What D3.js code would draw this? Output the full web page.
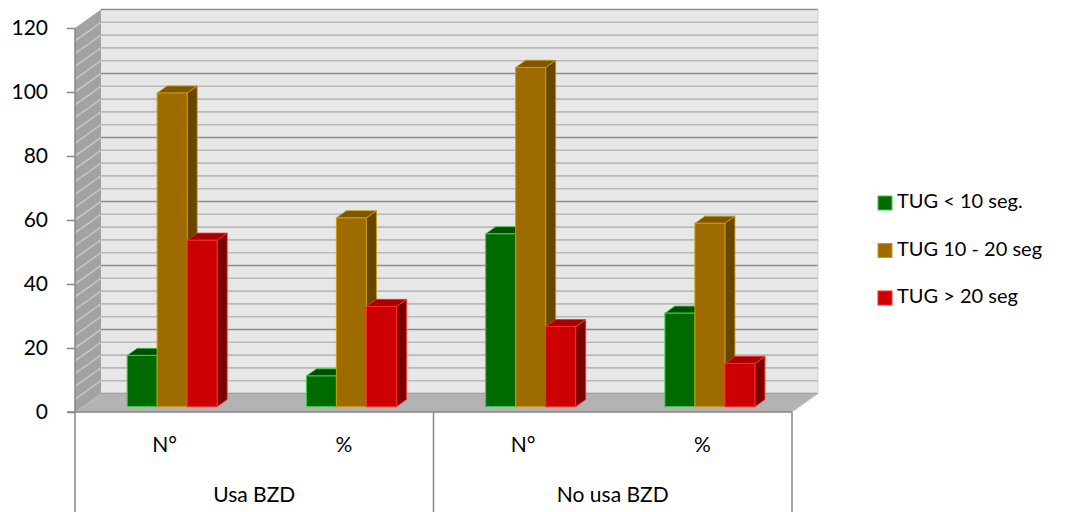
<!DOCTYPE html>
<html>
<head>
<meta charset="utf-8">
<script src="https://cdn.jsdelivr.net/npm/d3@7/dist/d3.min.js"></script>
<style>
  html, body { margin: 0; padding: 0; background: #ffffff; }
  svg { display: block; font-family: Lato, "Open Sans", sans-serif; }
</style>
</head>
<body>
<svg id="chart" width="1072" height="512"></svg>
<script>
// Chart data
const groups = ["Usa BZD", "No usa BZD"];
const measures = ["N°", "%"];
const series = ["TUG < 10 seg.", "TUG 10 - 20 seg", "TUG > 20 seg"];
const usaCount = [16, 98, 52];
const usaPercent = [9.6, 59.0, 31.3];
const noUsaCount = [54, 106, 25];
const noUsaPercent = [29.2, 57.3, 13.5];
const yTickValues = [0, 20, 40, 60, 80, 100, 120];

const categories = [
  { group: groups[0], measure: measures[0], values: usaCount },
  { group: groups[0], measure: measures[1], values: usaPercent },
  { group: groups[1], measure: measures[0], values: noUsaCount },
  { group: groups[1], measure: measures[1], values: noUsaPercent }
];

// Face colours per series: front, top, side, edge
const palette = [
  { front: "#006a00", top: "#004f00", side: "#004400", edge: "#3ccf4a" },
  { front: "#9e6b00", top: "#7f5600", side: "#684600", edge: "#c99a10" },
  { front: "#cc0000", top: "#a80000", side: "#7c0000", edge: "#ff2a2a" }
];

const svg = d3.select("#chart");

// Front plane geometry
const plotLeft = 75, plotRight = 792, plotBottom = 412, plotTop = 28;
const x0 = d3.scaleBand().domain(d3.range(categories.length)).range([plotLeft, plotRight]).padding(0);
const y = d3.scaleLinear().domain([0, 120]).range([plotBottom, plotTop]);

// Depth of the 3D box: fraction 0..1 mapped to screen offsets
const depthX = d3.scaleLinear().domain([0, 1]).range([0, 26]);
const depthY = d3.scaleLinear().domain([0, 1]).range([0, -18.5]);

const gridValues = d3.range(0, 121, 4);

// Back wall
const bx = depthX(1), by = depthY(1);
svg.append("rect")
  .attr("x", plotLeft + bx).attr("y", y(120) + by)
  .attr("width", plotRight - plotLeft).attr("height", y(0) - y(120))
  .attr("fill", "#e7e7e7");

// Side wall
svg.append("polygon")
  .attr("points", [[plotLeft, y(0)], [plotLeft + bx, y(0) + by], [plotLeft + bx, y(120) + by], [plotLeft, y(120)]].join(" "))
  .attr("fill", "#a2a2a2");

svg.append("g").selectAll("line").data(gridValues.filter(v => v > 0 && v < 120)).join("line")
  .attr("x1", plotLeft).attr("y1", d => y(d))
  .attr("x2", plotLeft + bx).attr("y2", d => y(d) + by)
  .attr("stroke", "#c6c6c6").attr("stroke-width", 1.6);

// Back wall grid
svg.append("g").selectAll("line").data(gridValues).join("line")
  .attr("x1", plotLeft + bx).attr("x2", plotRight + bx)
  .attr("y1", d => y(d) + by).attr("y2", d => y(d) + by)
  .attr("stroke", d => d % 20 === 0 ? "#8e8e8e" : "#b9b9b9")
  .attr("stroke-width", 1.6);

svg.append("line")
  .attr("x1", plotRight + bx).attr("x2", plotRight + bx)
  .attr("y1", y(120) + by).attr("y2", y(0) + by)
  .attr("stroke", "#d2d2d2").attr("stroke-width", 1);

// Floor
svg.append("polygon")
  .attr("points", [[plotLeft, y(0)], [plotRight, y(0)], [plotRight + bx, y(0) + by], [plotLeft + bx, y(0) + by]].join(" "))
  .attr("fill", "#b3b3b3");
svg.append("line")
  .attr("x1", plotRight).attr("y1", y(0)).attr("x2", plotRight + bx).attr("y2", y(0) + by)
  .attr("stroke", "#c8c8c8").attr("stroke-width", 1);

// Bars
const groupWidth = 90;
const x1 = d3.scaleBand().domain(d3.range(series.length)).range([0, groupWidth]).padding(0);
const frontDepth = 0.29, barDepth = 0.385;
const fdx = depthX(frontDepth), fdy = depthY(frontDepth);
const ddx = depthX(barDepth), ddy = depthY(barDepth);

const bars = [];
categories.forEach((c, ci) => {
  c.values.forEach((v, si) => {
    bars.push({ ci, si, v });
  });
});

const barG = svg.append("g");
bars.forEach(b => {
  const c = palette[b.si];
  const xl = x0(b.ci) + (x0.bandwidth() - groupWidth) / 2 + x1(b.si) + fdx;
  const w = x1.bandwidth();
  const yt = y(b.v) + fdy, yb = y(0) + fdy;
  const g = barG.append("g");
  g.append("polygon")
    .attr("points", [[xl + w, yt], [xl + w + ddx, yt + ddy], [xl + w + ddx, yb + ddy], [xl + w, yb]].join(" "))
    .attr("fill", c.side).attr("stroke", c.edge).attr("stroke-width", 0.8).attr("stroke-linejoin", "round");
  g.append("polygon")
    .attr("points", [[xl, yt], [xl + w, yt], [xl + w + ddx, yt + ddy], [xl + ddx, yt + ddy]].join(" "))
    .attr("fill", c.top).attr("stroke", c.edge).attr("stroke-width", 0.8).attr("stroke-linejoin", "round");
  g.append("rect")
    .attr("x", xl).attr("y", yt).attr("width", w).attr("height", yb - yt)
    .attr("fill", c.front).attr("stroke", c.edge).attr("stroke-width", 1);
});

// Value axis
const axisColor = "#868686";
const yAxis = svg.append("g")
  .attr("transform", `translate(${plotLeft},0)`)
  .call(d3.axisLeft(y).tickValues(yTickValues).tickSize(8).tickPadding(19).tickFormat(d3.format("d")));
yAxis.select(".domain").remove();
yAxis.selectAll(".tick line").attr("stroke", axisColor).attr("stroke-width", 1.5);
yAxis.selectAll(".tick text")
  .attr("fill", "#000").attr("font-size", 21).attr("font-family", "Lato, sans-serif");

svg.append("line")
  .attr("x1", plotLeft).attr("x2", plotLeft).attr("y1", y(120)).attr("y2", 512)
  .attr("stroke", axisColor).attr("stroke-width", 1.5);
svg.append("line")
  .attr("x1", plotLeft - 8).attr("x2", plotRight).attr("y1", y(0)).attr("y2", y(0))
  .attr("stroke", axisColor).attr("stroke-width", 1.5);

// Category axis, two levels
const measureY = 447, groupY = 497;
svg.append("g").selectAll("text").data(categories).join("text")
  .attr("x", (d, i) => x0(i) + x0.bandwidth() / 2)
  .attr("y", measureY)
  .attr("text-anchor", "middle").attr("dominant-baseline", "middle")
  .attr("font-size", 21).attr("fill", "#000")
  .text(d => d.measure);

const xg = d3.scaleBand().domain(groups).range([plotLeft, plotRight]);
svg.append("g").selectAll("text").data(groups).join("text")
  .attr("x", d => xg(d) + xg.bandwidth() / 2)
  .attr("y", groupY)
  .attr("text-anchor", "middle").attr("dominant-baseline", "middle")
  .attr("font-size", 21).attr("fill", "#000")
  .text(d => d);

svg.append("g").selectAll("line").data(groups.slice(1).map(g => xg(g)).concat([plotRight])).join("line")
  .attr("x1", d => d).attr("x2", d => d).attr("y1", y(0)).attr("y2", 512)
  .attr("stroke", axisColor).attr("stroke-width", 1.5);

// Legend
const legend = svg.append("g").attr("transform", "translate(878,203)");
const legendItems = legend.selectAll("g").data(series).join("g")
  .attr("transform", (d, i) => `translate(0,${i * 47.5})`);
legendItems.append("rect")
  .attr("x", 0).attr("y", -7).attr("width", 14).attr("height", 14)
  .attr("fill", (d, i) => palette[i].front)
  .attr("stroke", (d, i) => palette[i].edge).attr("stroke-width", 1);
legendItems.append("text")
  .attr("x", 19).attr("y", 0)
  .attr("dominant-baseline", "middle")
  .attr("font-size", 20).attr("fill", "#000")
  .text(d => d);
</script>
</body>
</html>
